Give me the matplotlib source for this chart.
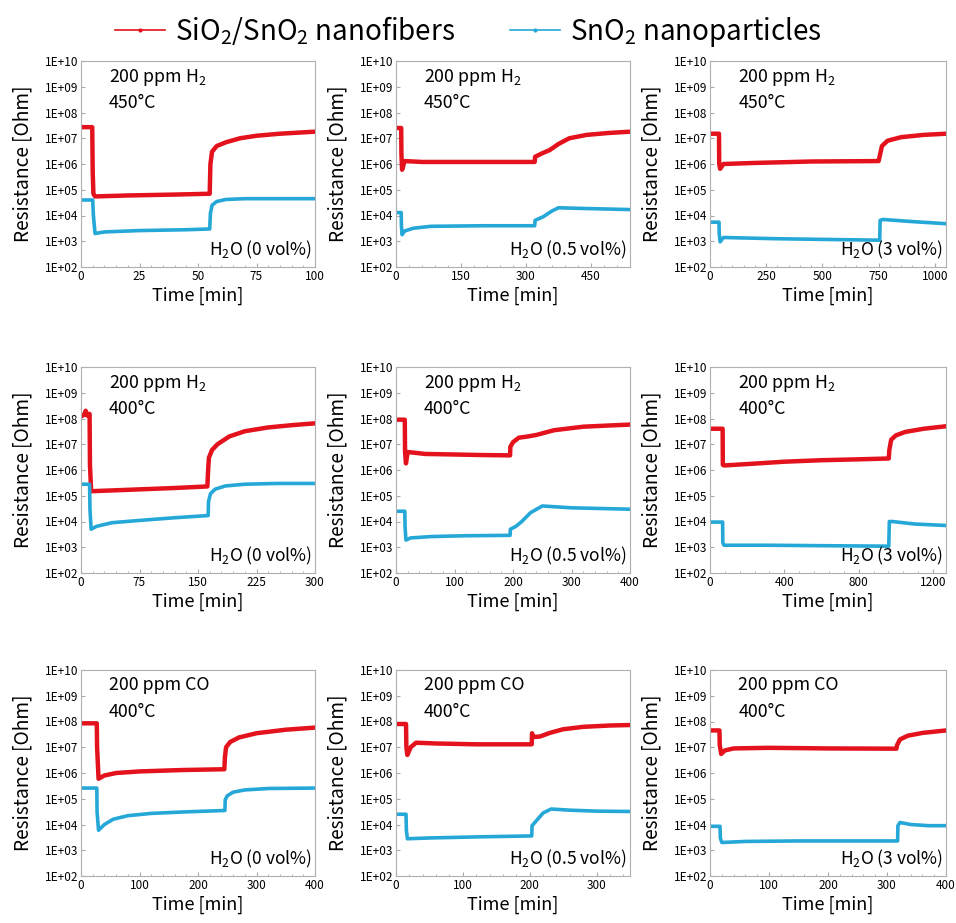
import numpy as np
import matplotlib
matplotlib.use("Agg")
import matplotlib.pyplot as plt
from matplotlib.lines import Line2D
from matplotlib.ticker import FixedLocator, AutoMinorLocator, FuncFormatter

plt.rcParams['font.family'] = ['Noto Sans CJK JP', 'DejaVu Sans']
plt.rcParams['mathtext.default'] = 'regular'

# --- data (time [min], resistance [Ohm]) ---
# row 1: 200 ppm H2, 450 C
t1_nf = [0, 4.8, 5.0, 5.3, 6, 20, 40, 55, 55.3, 56, 58, 62, 68, 75, 85, 100]
r1_nf = [2.7e7, 2.7e7, 5e5, 7e4, 5.5e4, 6e4, 6.5e4, 7e4, 1e6, 3e6, 5e6, 7e6, 1e7, 1.25e7, 1.5e7, 1.8e7]
t1_np = [0, 5, 5.3, 6, 10, 25, 45, 55, 55.3, 56, 58, 62, 70, 100]
r1_np = [4e4, 4e4, 1e4, 2e3, 2.3e3, 2.6e3, 2.8e3, 3e3, 1.2e4, 2.5e4, 3.5e4, 4.2e4, 4.5e4, 4.5e4]

t2_nf = [0, 12, 12.5, 14, 20, 60, 200, 320, 321, 335, 355, 375, 400, 440, 490, 540]
r2_nf = [2.5e7, 2.5e7, 2.5e6, 6e5, 1.3e6, 1.2e6, 1.2e6, 1.2e6, 1.9e6, 2.5e6, 3.5e6, 6e6, 1e7, 1.35e7, 1.6e7, 1.8e7]
t2_np = [0, 12, 12.5, 14, 20, 40, 80, 200, 320, 321, 340, 360, 375, 420, 540]
r2_np = [1.3e4, 1.3e4, 4e3, 1.8e3, 2.5e3, 3.2e3, 3.8e3, 4e3, 4e3, 6.5e3, 9e3, 1.5e4, 2e4, 1.9e4, 1.7e4]

t3_nf = [0, 40, 41, 45, 60, 200, 450, 750, 755, 765, 790, 850, 950, 1050]
r3_nf = [1.5e7, 1.5e7, 1e6, 6.5e5, 1e6, 1.1e6, 1.25e6, 1.3e6, 2e6, 5e6, 8e6, 1.1e7, 1.35e7, 1.5e7]
t3_np = [0, 40, 41, 45, 60, 300, 600, 755, 757, 770, 900, 1050]
r3_np = [5.5e3, 5.5e3, 2e3, 9.5e2, 1.4e3, 1.25e3, 1.15e3, 1.1e3, 6.5e3, 7e3, 5.8e3, 4.8e3]

# row 2: 200 ppm H2, 400 C
t4_nf = [0, 4, 6, 8, 10, 11, 11.5, 13, 60, 120, 162, 163, 164, 168, 175, 190, 210, 240, 270, 300]
r4_nf = [1.2e8, 1.4e8, 2e8, 1.3e8, 1.5e8, 1.5e8, 1.5e6, 1.5e5, 1.7e5, 2e5, 2.3e5, 1e6, 3e6, 6e6, 1e7, 2e7, 3.2e7, 4.5e7, 5.5e7, 6.5e7]
t4_np = [0, 11, 11.5, 13, 20, 40, 75, 120, 163, 163.5, 166, 172, 185, 210, 250, 300]
r4_np = [2.8e5, 2.8e5, 3e4, 5e3, 6.5e3, 9e3, 1.1e4, 1.4e4, 1.7e4, 6e4, 1.2e5, 1.8e5, 2.4e5, 2.8e5, 3e5, 3e5]

t5_nf = [0, 15, 15.5, 17, 20, 50, 100, 150, 195, 195.5, 200, 210, 225, 240, 270, 320, 360, 400]
r5_nf = [9e7, 9e7, 5e6, 1.8e6, 5e6, 4.2e6, 4e6, 3.8e6, 3.7e6, 8e6, 1.2e7, 1.8e7, 2e7, 2.3e7, 3.5e7, 4.8e7, 5.3e7, 5.8e7]
t5_np = [0, 15, 15.5, 17, 25, 60, 120, 195, 195.5, 205, 215, 230, 250, 300, 400]
r5_np = [2.5e4, 2.5e4, 6e3, 1.9e3, 2.3e3, 2.6e3, 2.8e3, 2.9e3, 5e3, 6.5e3, 1e4, 2.2e4, 4e4, 3.4e4, 3e4]

t6_nf = [0, 68, 69, 75, 200, 400, 600, 800, 962, 965, 975, 1000, 1050, 1150, 1270]
r6_nf = [4e7, 4e7, 1.6e6, 1.5e6, 1.7e6, 2.1e6, 2.4e6, 2.6e6, 2.8e6, 6e6, 1.5e7, 2.2e7, 3e7, 4e7, 5e7]
t6_np = [0, 68, 69, 75, 300, 600, 962, 965, 980, 1100, 1270]
r6_np = [9.5e3, 9.5e3, 1.5e3, 1.2e3, 1.2e3, 1.15e3, 1.1e3, 1e4, 1e4, 8e3, 7e3]

# row 3: 200 ppm CO, 400 C
t7_nf = [0, 27, 27.5, 30, 40, 60, 100, 170, 245, 246, 248, 255, 270, 300, 350, 400]
r7_nf = [8.5e7, 8.5e7, 1e7, 6e5, 8e5, 1e6, 1.15e6, 1.3e6, 1.4e6, 4e6, 1e7, 1.6e7, 2.4e7, 3.5e7, 4.8e7, 5.8e7]
t7_np = [0, 27, 27.5, 30, 40, 55, 80, 120, 180, 246, 246.5, 250, 260, 280, 320, 400]
r7_np = [2.6e5, 2.6e5, 3e4, 6e3, 1e4, 1.6e4, 2.2e4, 2.7e4, 3.1e4, 3.5e4, 9e4, 1.3e5, 1.8e5, 2.2e5, 2.5e5, 2.6e5]

t8_nf = [0, 15, 15.5, 17, 22, 30, 60, 120, 203, 203.5, 205, 215, 230, 250, 280, 320, 350]
r8_nf = [8e7, 8e7, 1e7, 5e6, 1e7, 1.5e7, 1.4e7, 1.3e7, 1.3e7, 3.5e7, 2.5e7, 2.6e7, 3.6e7, 5e7, 6.2e7, 7e7, 7.3e7]
t8_np = [0, 15, 15.5, 17, 50, 120, 203, 203.5, 210, 220, 232, 260, 300, 350]
r8_np = [2.5e4, 2.5e4, 6e3, 2.8e3, 3e3, 3.3e3, 3.6e3, 9e3, 1.4e4, 2.8e4, 4e4, 3.6e4, 3.3e4, 3.2e4]

t9_nf = [0, 16, 16.5, 19, 25, 40, 100, 200, 316, 317, 322, 335, 360, 400]
r9_nf = [4.5e7, 4.5e7, 1.2e7, 5.5e6, 7.5e6, 9e6, 9.5e6, 9e6, 8.8e6, 1.2e7, 2e7, 2.8e7, 3.6e7, 4.5e7]
t9_np = [0, 17, 17.5, 20, 60, 150, 318, 318.5, 322, 340, 370, 400]
r9_np = [8.5e3, 8.5e3, 3e3, 2e3, 2.2e3, 2.3e3, 2.3e3, 9e3, 1.2e4, 1e4, 9e3, 9e3]

gas = ['200 ppm H$_2$'] * 6 + ['200 ppm CO'] * 3
temp = ['450°C'] * 3 + ['400°C'] * 6
water = ['H$_2$O (0 vol%)', 'H$_2$O (0.5 vol%)', 'H$_2$O (3 vol%)'] * 3
xmax = [100, 540, 1050, 300, 400, 1270, 400, 350, 400]
xticks = [[0, 25, 50, 75, 100], [0, 150, 300, 450], [0, 250, 500, 750, 1000],
          [0, 75, 150, 225, 300], [0, 100, 200, 300, 400], [0, 400, 800, 1200],
          [0, 100, 200, 300, 400], [0, 100, 200, 300], [0, 100, 200, 300, 400]]

nf = [(t1_nf, r1_nf), (t2_nf, r2_nf), (t3_nf, r3_nf), (t4_nf, r4_nf), (t5_nf, r5_nf),
      (t6_nf, r6_nf), (t7_nf, r7_nf), (t8_nf, r8_nf), (t9_nf, r9_nf)]
npart = [(t1_np, r1_np), (t2_np, r2_np), (t3_np, r3_np), (t4_np, r4_np), (t5_np, r5_np),
         (t6_np, r6_np), (t7_np, r7_np), (t8_np, r8_np), (t9_np, r9_np)]

red = '#e3121c'
blue = '#25a8d8'
W, H = 956, 923

fig = plt.figure(figsize=(W / 100, H / 100), dpi=100)

lefts = [81, 396, 710]
widths = [234, 234, 236]
bottoms = [267, 573, 876]
ah = 206

for i in range(9):
    row, col = i // 3, i % 3
    ax = fig.add_axes([lefts[col] / W, 1 - bottoms[row] / H, widths[col] / W, ah / H])
    ax.plot(nf[i][0], nf[i][1], color=red, lw=3.2, solid_joinstyle='round')
    ax.plot(npart[i][0], npart[i][1], color=blue, lw=2.6, solid_joinstyle='round')
    ax.set_yscale('log')
    ax.set_ylim(1e2, 1e10)
    ax.set_xlim(0, xmax[i])
    ax.yaxis.set_major_locator(FixedLocator([10.0 ** k for k in range(2, 11)]))
    ax.yaxis.set_major_formatter(FuncFormatter(lambda v, p: '1E+%02d' % int(round(np.log10(v)))))
    ax.xaxis.set_major_locator(FixedLocator(xticks[i]))
    ax.xaxis.set_minor_locator(AutoMinorLocator(5))
    ax.tick_params(which='both', direction='in', color='#aaaaaa')
    ax.tick_params(which='major', length=3, labelsize=8.5, pad=2)
    ax.tick_params(which='minor', length=1.5)
    for s in ax.spines.values():
        s.set_color('#b0b0b0')
        s.set_linewidth(0.8)
    ax.set_xlabel('Time [min]', fontsize=13, labelpad=3)
    ax.set_ylabel('Resistance [Ohm]', fontsize=13.8, labelpad=8)
    ax.text(0.12, 0.97, gas[i], transform=ax.transAxes, fontsize=12.8, va='top', ha='left')
    ax.text(0.12, 0.84, temp[i], transform=ax.transAxes, fontsize=12.8, va='top', ha='left')
    ax.text(0.985, 0.03, water[i], transform=ax.transAxes, fontsize=12.5, va='bottom', ha='right')

handles = [Line2D([], [], color=red, lw=1.2, marker='o', markersize=2),
           Line2D([], [], color=blue, lw=1.2, marker='o', markersize=2)]
fig.legend(handles, ['SiO$_2$/SnO$_2$ nanofibers', 'SnO$_2$ nanoparticles'],
           loc='upper center', bbox_to_anchor=(0.49, 1.012), ncol=2, frameon=False,
           fontsize=20, handlelength=1.8, columnspacing=2.0, handletextpad=0.35)

fig.savefig('out.png', dpi=100)
